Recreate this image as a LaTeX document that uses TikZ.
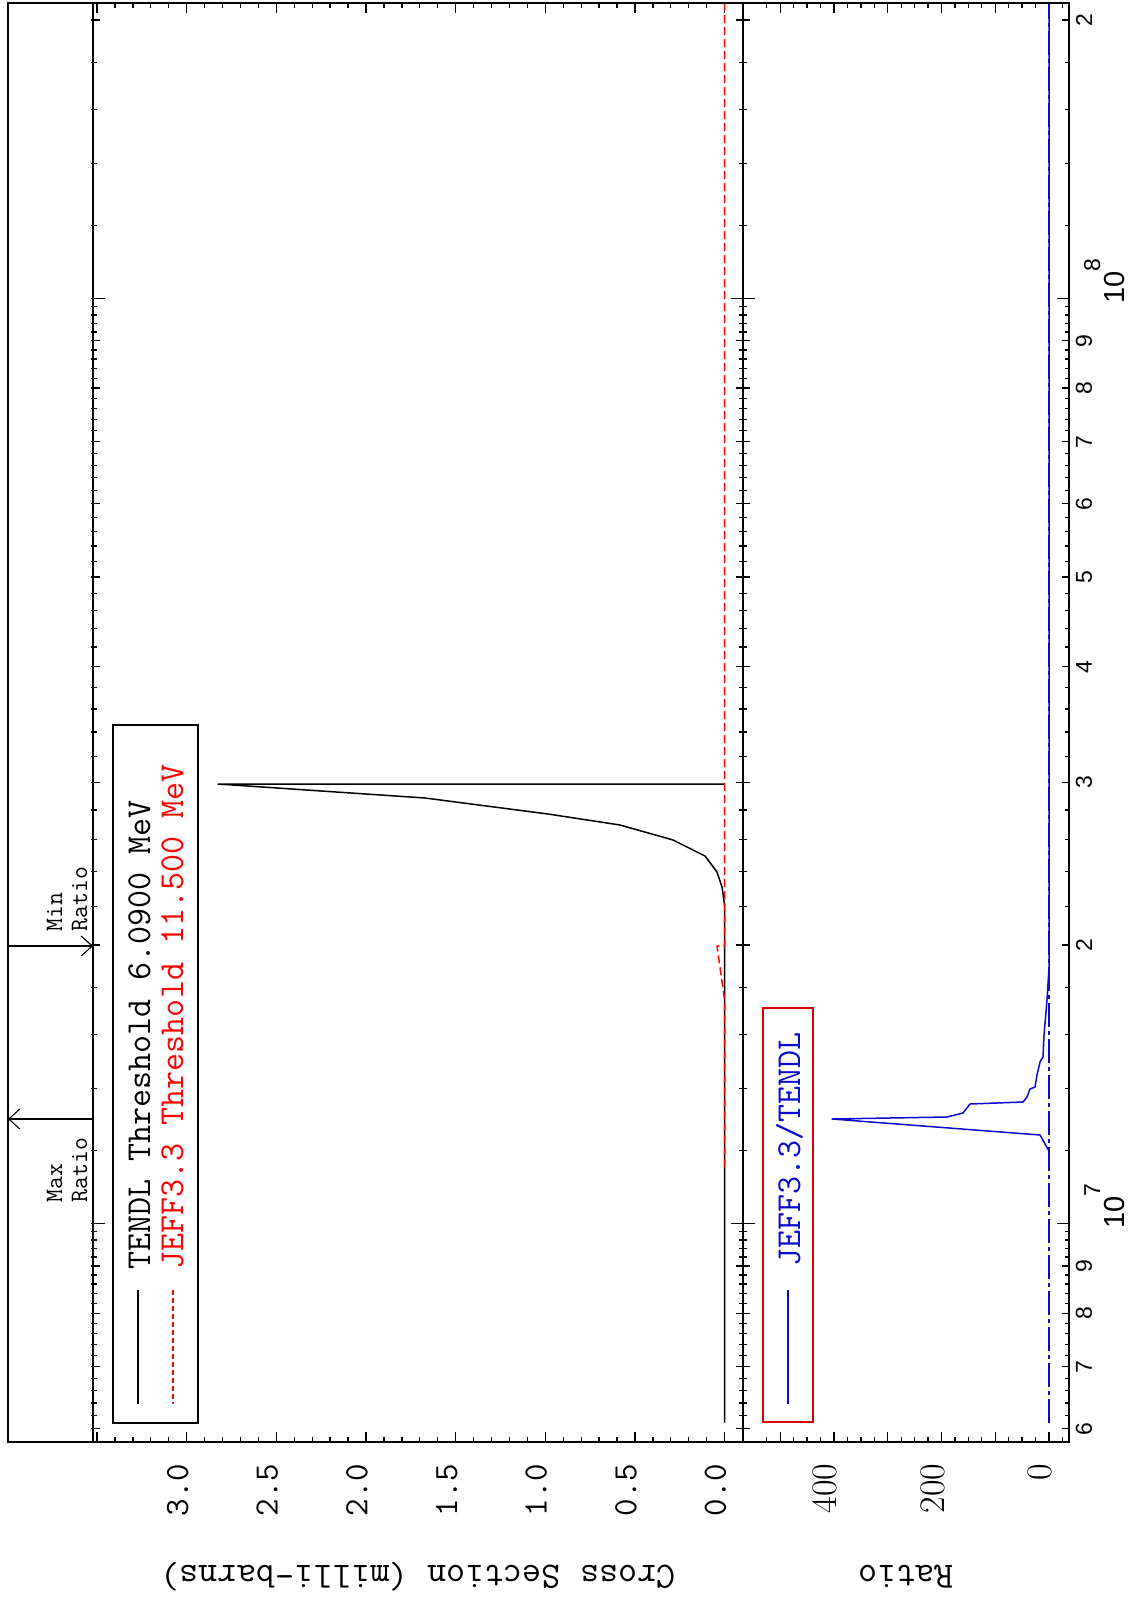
\documentclass[tikz,border=0pt]{standalone}
\usepackage{fontspec}
\newfontfamily\labsans{Liberation Sans}
\usetikzlibrary{arrows.meta}
\definecolor{jeffred}{RGB}{255,0,0}
\definecolor{boxred}{RGB}{215,0,0}
\definecolor{ratioblue}{RGB}{10,10,205}

\begin{document}
\begin{tikzpicture}[x=1pt,y=-1pt,line width=1.3pt,
    tt/.style={font=\ttfamily\fontsize{#1}{#1}\selectfont,inner sep=0pt},
    elab/.style={font=\labsans\fontsize{23}{23}\selectfont,inner sep=0pt,rotate=90},
    rlab/.style={font=\fontsize{36}{36}\selectfont,inner sep=0pt,rotate=90,anchor=east},
    curve/.style={line width=1.5pt,line join=round},
    legbox/.style={line width=1.6pt}]
    \useasboundingbox (0,0) rectangle (1129,1602);

    % frame: margin strip, cross section panel, ratio panel
    \draw[line width=1.6pt] (8,3) rectangle (1069,1442);
    \draw[line width=1.6pt] (93,3) -- (93,1442);
    \draw[line width=1.6pt] (743,3) -- (743,1442);

    % energy ticks (log scale, 925 per decade, 10^7 at 1223.5)
    \foreach \e in {6,7,8}{
      \foreach \m in {1.2,1.4,...,9.9}{
        \pgfmathsetmacro\yy{1223.5-925*(\e-7)-401.72*ln(\m)}
        \ifdim\yy pt>5pt \ifdim\yy pt<1440pt
          \draw (91,\yy) -- (97,\yy);
          \draw (739,\yy) -- (747,\yy);
          \draw (1065,\yy) -- (1069,\yy);
        \fi\fi
      }
    }
    \foreach \e/\m in {6/6,6/7,6/8,6/9,7/2,7/3,7/4,7/5,7/6,7/7,7/8,7/9,8/2}{
      \pgfmathsetmacro\yy{1223.5-925*(\e-7)-401.72*ln(\m)}
      \draw (91,\yy) -- (100,\yy);
      \draw (736,\yy) -- (750,\yy);
      \draw (1062,\yy) -- (1069,\yy);
      \node[elab] (e\e\m) at (1084,\yy) {\m};
    }
    \foreach \e in {7,8}{
      \pgfmathsetmacro\yy{1223.5-925*(\e-7)}
      \draw (91,\yy) -- (105,\yy);
      \draw (731,\yy) -- (755,\yy);
      \draw (1057,\yy) -- (1069,\yy);
      \node[elab,anchor=base west,font=\labsans\fontsize{29}{29}\selectfont]
        (dec\e) at (1124,\yy+6) {10\raisebox{24pt}{\fontsize{23}{23}\selectfont\e}};
    }

    % cross section ticks and labels
    \foreach \k in {-1,...,35}{
      \pgfmathsetmacro\xx{724.6-17.93*\k}
      \pgfmathsetmacro\tl{ifthenelse(mod(\k,5)==0,10,5)}
      \draw (\xx,3) -- (\xx,3+\tl);
      \draw (\xx,1442) -- (\xx,1442-\tl);
    }
    \foreach \v [count=\i] in {0.0,0.5,1.0,1.5,2.0,2.5,3.0}{
      \node[tt=34,rotate=90,anchor=east] (cs\i) at (724.6-179.3*\v-9,1463) {\v};
    }

    % ratio ticks and labels
    \foreach \k in {-2,...,43}{
      \pgfmathsetmacro\xx{1049-13.4375*\k/2}
      \pgfmathsetmacro\tl{ifthenelse(mod(\k,8)==0,10,5)}
      \ifodd\k\else
        \draw (\xx,3) -- (\xx,3+\tl);
        \draw (\xx,1442) -- (\xx,1442-\tl);
      \fi
    }
    \foreach \r in {0,200,400}{
      \node[rlab] (rl\r) at (1049-0.5375*\r-9,1463) {\r};
    }

    % axis titles
    \node[tt=37,rotate=180] (cstitle) at (418,1577) {Cross Section (milli-barns)};
    \node[tt=37,rotate=180] (rtitle) at (906,1577) {Ratio};

    % max / min ratio markers
    \coordinate (maxa) at (93,1119);
    \coordinate (maxb) at (8,1119);
    \coordinate (mina) at (8,946);
    \coordinate (minb) at (93,946);
    \draw[line width=1.1pt,-{Straight Barb[length=11pt,width=20pt]}] (maxa) -- (maxb);
    \draw[line width=1.1pt,-{Straight Barb[length=11pt,width=20pt]}] (mina) -- (minb);
    \node[tt=25,rotate=90,anchor=base west] (maxt) at (62,1203) {Max};
    \node[tt=25,rotate=90,anchor=base west] (maxr) at (87,1203) {Ratio};
    \node[tt=25,rotate=90,anchor=base west] (mint) at (62,932) {Min};
    \node[tt=25,rotate=90,anchor=base west] (minr) at (87,932) {Ratio};

    % TENDL
    \draw[curve] (724.6,1422.7) -- (724.6,905) -- (722,887) -- (717,872)
      -- (705,856) -- (673,840) -- (620,825) -- (548,814) -- (425,798)
      -- (218,784) -- (724.6,784);
    % JEFF3.3
    \draw[curve,jeffred,dash pattern=on 8pt off 4pt] (724.6,1167) -- (724.6,1000)
      -- (717,946) -- (724.6,946) -- (724.6,4);

    % ratio
    \draw[curve,ratioblue,dash pattern=on 24pt off 4pt on 4pt off 4pt]
      (1049,1422.7) -- (1049,4);
    \draw[curve,ratioblue] (1049,1167) -- (1049,1151) -- (1040,1135) -- (832,1119)
      -- (947,1117) -- (963,1113) -- (970,1104) -- (1023,1102) -- (1027,1097)
      -- (1030,1089) -- (1035,1087) -- (1037,1075) -- (1040,1062) -- (1043,1057)
      -- (1044,1035) -- (1047,1000) -- (1049,967) -- (1049,4);

    % legends
    \draw[legbox] (113,725) rectangle (198,1423);
    \draw[line width=1.2pt] (138,1290) -- (138,1404);
    \draw[line width=1.2pt,jeffred,dash pattern=on 5pt off 3pt] (173,1290) -- (173,1404);
    \node[tt=35,rotate=90,anchor=base west] (legt) at (150,1270) {TENDL Threshold 6.0900 MeV};
    \node[tt=35,rotate=90,anchor=base west,text=jeffred] (legj) at (183,1270) {JEFF3.3 Threshold 11.500 MeV};

    \draw[legbox,boxred] (763,1008) rectangle (813,1422);
    \draw[line width=1.2pt,ratioblue] (788,1290) -- (788,1404);
    \node[tt=35,rotate=90,anchor=base west,text=ratioblue] (legr) at (800,1267) {JEFF3.3/TENDL};
\end{tikzpicture}
\end{document}
